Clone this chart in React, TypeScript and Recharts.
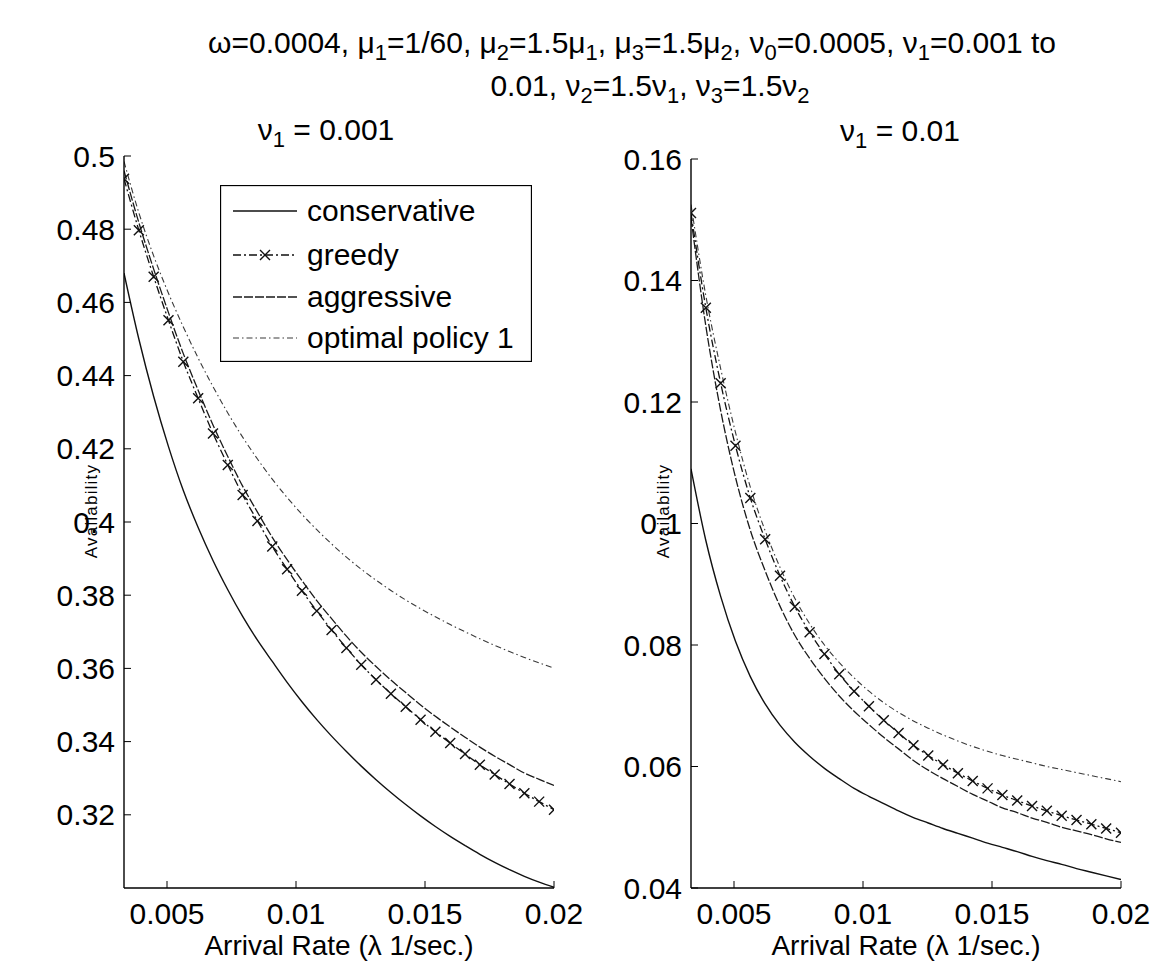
import { LineChart, Line, XAxis, YAxis, Legend } from "recharts";

const FONT = "'Liberation Sans', Arial, Helvetica, sans-serif";

// arrival rate lambda (1/sec.), 30 samples from 1/300 to 1/50
const LAMBDA = [
  0.003333, 0.003908, 0.004483, 0.005057, 0.005632, 0.006207, 0.006782, 0.007356, 0.007931, 0.008506,
  0.00908, 0.009655, 0.01023, 0.010805, 0.011379, 0.011954, 0.012529, 0.013103, 0.013678, 0.014253,
  0.014828, 0.015402, 0.015977, 0.016552, 0.017126, 0.017701, 0.018276, 0.018851, 0.019425, 0.02,
];

const X_TICKS = [0.005, 0.01, 0.015, 0.02];
const LEFT_Y_TICKS = [0.32, 0.34, 0.36, 0.38, 0.4, 0.42, 0.44, 0.46, 0.48, 0.5];
const RIGHT_Y_TICKS = [0.04, 0.06, 0.08, 0.1, 0.12, 0.14, 0.16];

// nu1 = 0.001
const LEFT_CONSERVATIVE = [
  0.468, 0.45, 0.4343, 0.4206, 0.4086, 0.3985, 0.3895, 0.3815, 0.3742, 0.3677,
  0.3619, 0.3562, 0.3509, 0.346, 0.3415, 0.3373, 0.3333, 0.3296, 0.3261, 0.3228,
  0.3197, 0.3168, 0.3141, 0.3116, 0.3092, 0.307, 0.305, 0.3032, 0.3016, 0.3002,
];
const LEFT_GREEDY = [
  0.4938, 0.4797, 0.467, 0.4551, 0.4438, 0.4338, 0.4242, 0.4156, 0.4074, 0.4003,
  0.3933, 0.3871, 0.3812, 0.3757, 0.3705, 0.3656, 0.361, 0.3569, 0.3531, 0.3495,
  0.346, 0.3427, 0.3396, 0.3366, 0.3337, 0.331, 0.3284, 0.3259, 0.3236, 0.3214,
];
const LEFT_AGGRESSIVE = [
  0.496, 0.4818, 0.4691, 0.4572, 0.446, 0.436, 0.4265, 0.4179, 0.4098, 0.4027,
  0.3958, 0.3897, 0.384, 0.3785, 0.3736, 0.3688, 0.3644, 0.3605, 0.3568, 0.3534,
  0.35, 0.3469, 0.344, 0.3412, 0.3385, 0.336, 0.3337, 0.3314, 0.3297, 0.328,
];
const LEFT_OPTIMAL = [
  0.4985, 0.4845, 0.4727, 0.4625, 0.4533, 0.4448, 0.437, 0.4298, 0.4232, 0.4172,
  0.4117, 0.4067, 0.4021, 0.3979, 0.394, 0.3904, 0.3871, 0.3841, 0.3813, 0.3787,
  0.3763, 0.3741, 0.372, 0.37, 0.3681, 0.3663, 0.3646, 0.363, 0.3615, 0.3601,
];

// nu1 = 0.01
const RIGHT_CONSERVATIVE = [
  0.109, 0.0972, 0.088, 0.0806, 0.0748, 0.0703, 0.0668, 0.064, 0.0617, 0.0597,
  0.058, 0.0564, 0.0551, 0.0539, 0.0527, 0.0516, 0.0507, 0.0498, 0.049, 0.0482,
  0.0474, 0.0467, 0.046, 0.0452, 0.0445, 0.0439, 0.0432, 0.0426, 0.042, 0.0414,
];
const RIGHT_GREEDY = [
  0.1511, 0.1355, 0.1231, 0.1128, 0.1042, 0.0974, 0.0914, 0.0863, 0.0821, 0.0785,
  0.0752, 0.0724, 0.0699, 0.0676, 0.0655, 0.0635, 0.0618, 0.0603, 0.0589, 0.0576,
  0.0564, 0.0553, 0.0544, 0.0535, 0.0527, 0.0519, 0.0512, 0.0505, 0.0498, 0.0491,
];
const RIGHT_AGGRESSIVE = [
  0.1503, 0.1325, 0.1186, 0.1076, 0.0989, 0.0922, 0.0864, 0.0816, 0.0778, 0.0745,
  0.0716, 0.0691, 0.0669, 0.0648, 0.0629, 0.061, 0.0594, 0.058, 0.0567, 0.0554,
  0.0543, 0.0532, 0.0524, 0.0515, 0.0508, 0.05, 0.0494, 0.0488, 0.0481, 0.0475,
];
const RIGHT_OPTIMAL = [
  0.1525, 0.1375, 0.1255, 0.115, 0.106, 0.0988, 0.0928, 0.0877, 0.0835, 0.08,
  0.0771, 0.0746, 0.0724, 0.0705, 0.0689, 0.0675, 0.0663, 0.0652, 0.0642, 0.0633,
  0.0625, 0.0618, 0.0612, 0.0606, 0.06, 0.0595, 0.059, 0.0585, 0.058, 0.0575,
];

const SERIES = [
  { key: "conservative", name: "conservative", dash: undefined, color: "#111", width: 1.4 },
  { key: "aggressive", name: "aggressive", dash: "9 2", color: "#1a1a1a", width: 1.3 },
  { key: "optimal", name: "optimal policy 1", dash: "6 3 1.5 3", color: "#3a3a3a", width: 1.1 },
  { key: "greedy", name: "greedy", dash: "8 3 2 3", color: "#111", width: 1.3 },
];
const LEGEND_ORDER = ["conservative", "greedy", "aggressive", "optimal"];

function buildRows(cons: number[], greedy: number[], aggr: number[], opt: number[]) {
  return LAMBDA.map((x, i) => ({
    x,
    conservative: cons[i],
    greedy: greedy[i],
    aggressive: aggr[i],
    optimal: opt[i],
  }));
}

const leftRows = buildRows(LEFT_CONSERVATIVE, LEFT_GREEDY, LEFT_AGGRESSIVE, LEFT_OPTIMAL);
const rightRows = buildRows(RIGHT_CONSERVATIVE, RIGHT_GREEDY, RIGHT_AGGRESSIVE, RIGHT_OPTIMAL);

const fmtNum = (v: number) => String(Number(v.toFixed(4)));

function CrossDot(props: any) {
  const { cx, cy } = props;
  if (cx == null || cy == null) return <g />;
  const s = 5;
  return (
    <path
      d={`M${cx - s},${cy - s}L${cx + s},${cy + s}M${cx - s},${cy + s}L${cx + s},${cy - s}`}
      stroke="#111"
      strokeWidth={1.4}
      fill="none"
    />
  );
}

function LegendBox() {
  const rows = [26, 70, 112, 153];
  return (
    <svg width={312} height={177} style={{ display: "block" }}>
      <rect x={0.5} y={0.5} width={311} height={176} fill="#fff" stroke="#000" strokeWidth={1.3} />
      {LEGEND_ORDER.map((k, i) => {
        const s = SERIES.find((d) => d.key === k)!;
        const y = rows[i];
        return (
          <g key={k}>
            <line x1={13} x2={77} y1={y} y2={y} stroke={s.color} strokeWidth={s.width} strokeDasharray={s.dash} />
            {k === "greedy" && <CrossDot cx={45} cy={y} />}
            <text x={87} y={y + 10} fontSize={30} fontFamily={FONT} fill="#000">
              {s.name}
            </text>
          </g>
        );
      })}
    </svg>
  );
}

const tickStyle = { fontSize: 30, fill: "#000", fontFamily: FONT };

interface PanelProps {
  rows: ReturnType<typeof buildRows>;
  width: number;
  yDomain: [number, number];
  yTicks: number[];
  margin: { top: number; right: number; bottom: number; left: number };
  yAxisWidth: number;
  yLabelX: number;
  legend?: boolean;
}

function Panel({ rows, width, yDomain, yTicks, margin, yAxisWidth, yLabelX, legend }: PanelProps) {
  const yLabel = () => {
    const cy = 511;
    return (
      <text
        x={yLabelX}
        y={cy}
        transform={`rotate(-90 ${yLabelX} ${cy})`}
        textAnchor="middle"
        fontSize={17}
        letterSpacing={1.2}
        fontFamily={FONT}
        fill="#000"
      >
        Availability
      </text>
    );
  };
  const xLabel = (props: any) => {
    const vb = props.viewBox;
    return (
      <text x={vb.x + vb.width / 2} y={955} textAnchor="middle" fontSize={28} fontFamily={FONT} fill="#000">
        Arrival Rate (λ 1/sec.)
      </text>
    );
  };
  return (
    <LineChart width={width} height={964} data={rows} margin={margin}>
      <XAxis
        dataKey="x"
        type="number"
        domain={[LAMBDA[0], 0.02]}
        ticks={X_TICKS}
        interval={0}
        allowDataOverflow
        tickFormatter={fmtNum}
        tick={tickStyle}
        tickSize={-7}
        tickMargin={22}
        height={70}
        axisLine={{ stroke: "#000", strokeWidth: 1.4 }}
        tickLine={{ stroke: "#000" }}
        label={xLabel}
      />
      <XAxis
        xAxisId="top"
        orientation="top"
        dataKey="x"
        type="number"
        domain={[LAMBDA[0], 0.02]}
        ticks={X_TICKS}
        interval={0}
        allowDataOverflow
        tickFormatter={() => ""}
        tickSize={-7}
        height={0}
        axisLine={{ stroke: "#000", strokeWidth: 1.4 }}
        tickLine={{ stroke: "#000" }}
      />
      <YAxis
        type="number"
        domain={yDomain}
        ticks={yTicks}
        interval={0}
        allowDataOverflow
        tickFormatter={fmtNum}
        tick={tickStyle}
        tickSize={-7}
        tickMargin={16}
        width={yAxisWidth}
        axisLine={{ stroke: "#000", strokeWidth: 1.4 }}
        tickLine={{ stroke: "#000" }}
        label={yLabel}
      />
      <YAxis
        yAxisId="right"
        orientation="right"
        type="number"
        domain={yDomain}
        ticks={yTicks}
        interval={0}
        allowDataOverflow
        tickFormatter={() => ""}
        tickSize={-7}
        width={0}
        axisLine={{ stroke: "#000", strokeWidth: 1.4 }}
        tickLine={{ stroke: "#000" }}
      />
      {SERIES.map((s) => (
        <Line
          key={s.key}
          type="monotone"
          dataKey={s.key}
          name={s.name}
          stroke={s.color}
          strokeWidth={s.width}
          strokeDasharray={s.dash}
          dot={s.key === "greedy" ? <CrossDot /> : false}
          activeDot={false}
          isAnimationActive={false}
        />
      ))}
      {legend && (
        <Legend
          layout="vertical"
          align="center"
          verticalAlign="middle"
          wrapperStyle={{ left: 220, top: 185, width: 312, height: 177 }}
          content={() => <LegendBox />}
        />
      )}
    </LineChart>
  );
}

const TITLE_1: [string, string?][] = [
  ["ω=0.0004, μ", "1"],
  ["=1/60, μ", "2"],
  ["=1.5μ", "1"],
  [", μ", "3"],
  ["=1.5μ", "2"],
  [", ν", "0"],
  ["=0.0005, ν", "1"],
  ["=0.001 to"],
];
const TITLE_2: [string, string?][] = [
  ["0.01, ν", "2"],
  ["=1.5ν", "1"],
  [", ν", "3"],
  ["=1.5ν", "2"],
];

function RichText({ parts, x, y, size }: { parts: [string, string?][]; x: number; y: number; size: number }) {
  const subSize = Math.round(size * 0.72);
  const drop = 7;
  const spans: JSX.Element[] = [];
  parts.forEach(([main, sub], i) => {
    spans.push(
      <tspan key={`m${i}`} dy={i > 0 && parts[i - 1][1] ? -drop : 0}>
        {main}
      </tspan>
    );
    if (sub) {
      spans.push(
        <tspan key={`s${i}`} fontSize={subSize} dy={drop}>
          {sub}
        </tspan>
      );
    }
  });
  return (
    <text x={x} y={y} textAnchor="middle" fontSize={size} fontFamily={FONT} fill="#000">
      {spans}
    </text>
  );
}

export default function App() {
  return (
    <div style={{ position: "absolute", left: 0, top: 0, width: 1167, height: 964, background: "#fff" }}>
      <div style={{ position: "absolute", left: 0, top: 0 }}>
        <Panel
          rows={leftRows}
          width={600}
          yDomain={[0.3, 0.5]}
          yTicks={LEFT_Y_TICKS}
          margin={{ top: 156, right: 46, bottom: 6, left: 0 }}
          yAxisWidth={124}
          yLabelX={97}
          legend
        />
      </div>
      <div style={{ position: "absolute", left: 600, top: 0 }}>
        <Panel
          rows={rightRows}
          width={567}
          yDomain={[0.04, 0.16]}
          yTicks={RIGHT_Y_TICKS}
          margin={{ top: 159, right: 46, bottom: 6, left: 0 }}
          yAxisWidth={91}
          yLabelX={69}
        />
      </div>
      <svg width={1167} height={160} style={{ position: "absolute", left: 0, top: 0, pointerEvents: "none" }}>
        <RichText parts={TITLE_1} x={632} y={53} size={30} />
        <RichText parts={TITLE_2} x={650} y={96} size={30} />
        <RichText parts={[["ν", "1"], [" = 0.001"]]} x={326} y={140} size={30} />
        <RichText parts={[["ν", "1"], [" = 0.01"]]} x={900} y={141} size={30} />
      </svg>
    </div>
  );
}
